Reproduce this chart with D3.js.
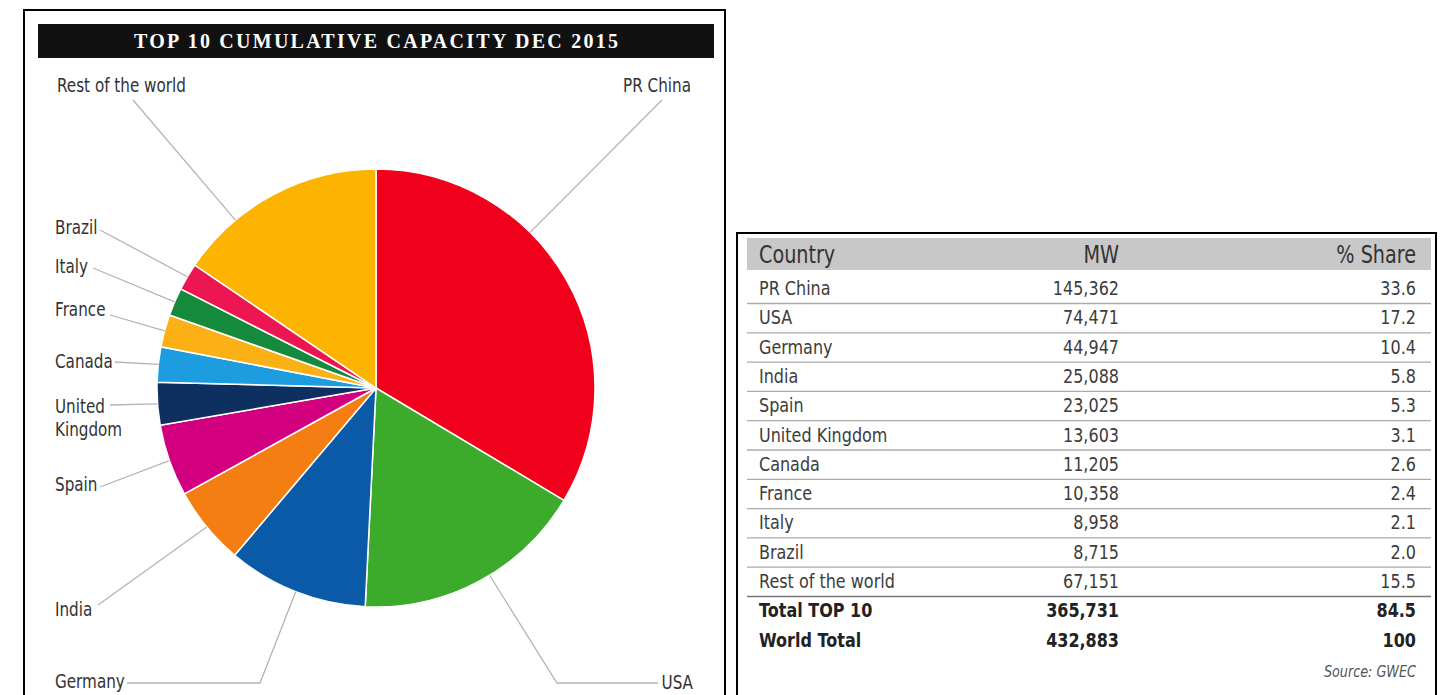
<!DOCTYPE html>
<html>
<head>
<meta charset="utf-8">
<script src="https://cdn.jsdelivr.net/npm/d3@7"></script>
<style>
  body { margin: 0; background: #fff; }
  svg { display: block; }
  .cond { font-family: "DejaVu Sans", "Noto Sans", sans-serif; }
</style>
</head>
<body>
<svg id="chart" width="1449" height="695"></svg>
<script>
// data
const countries = ["PR China", "USA", "Germany", "India", "Spain", "United Kingdom", "Canada", "France", "Italy", "Brazil", "Rest of the world"];
const capacityMW = [145362, 74471, 44947, 25088, 23025, 13603, 11205, 10358, 8958, 8715, 67151];
const sharePct = [33.6, 17.2, 10.4, 5.8, 5.3, 3.1, 2.6, 2.4, 2.1, 2.0, 15.5];
const totalLabels = ["Total TOP 10", "World Total"];
const totalMW = [365731, 432883];
const totalShare = ["84.5", "100"];
const columnHeaders = ["Country", "MW", "% Share"];
const sliceColors = ["#f0001a", "#3cab2b", "#0b5aa8", "#f57e12", "#d2007e", "#0d3060", "#1d9de0", "#fbb015", "#168a3c", "#ec1652", "#fdb400"];

const svg = d3.select("#chart");
const fmt = d3.format(",");
const SQUEEZE = 0.8; // narrow the sans text to look condensed

// condensed text helper: squeeze horizontally around its anchor point
function condText(parent, x, y, anchor, size, txt) {
  return parent.append("text")
    .attr("class", "cond")
    .attr("transform", `translate(${x},${y}) scale(${SQUEEZE},1)`)
    .attr("text-anchor", anchor)
    .style("font-size", size + "px")
    .text(txt);
}

// ---- left panel: pie ----
svg.append("rect").attr("x", 24).attr("y", 10).attr("width", 701).attr("height", 700)
  .attr("fill", "none").attr("stroke", "#000").attr("stroke-width", 2);

svg.append("rect").attr("x", 38).attr("y", 24).attr("width", 676).attr("height", 34).attr("fill", "#111");
svg.append("text")
  .attr("x", 376).attr("y", 48)
  .attr("text-anchor", "middle")
  .attr("textLength", 484).attr("lengthAdjust", "spacing")
  .style("font-family", "'Liberation Serif', 'DejaVu Serif', serif")
  .style("font-weight", "bold").style("font-size", "20px")
  .attr("fill", "#fff")
  .text("TOP 10 CUMULATIVE CAPACITY DEC 2015");

const cx = 376, cy = 388, radius = 219;
const pie = d3.pie().sort(null).value(d => d)(capacityMW);
const arc = d3.arc().innerRadius(0).outerRadius(radius);

const g = svg.append("g").attr("transform", `translate(${cx},${cy})`);
g.selectAll("path.slice")
  .data(pie)
  .join("path")
  .attr("class", "slice")
  .attr("d", arc)
  .attr("fill", (d, i) => sliceColors[i])
  .attr("stroke", "#fff")
  .attr("stroke-width", 1.5);

// label layout: text anchor, leader start, optional elbow, position along slice
const labelLayout = {
  "PR China":          { x: 691, y: 92, anchor: "end",   from: [662, 100], f: 0.37 },
  "USA":               { x: 693, y: 689, anchor: "end",  from: [658, 683], elbow: [557, 683], f: 0.45 },
  "Germany":           { x: 55, y: 688, anchor: "start", from: [127, 683], elbow: [260, 683] },
  "India":             { x: 55, y: 616, anchor: "start", from: [98, 605] },
  "Spain":             { x: 55, y: 491, anchor: "start", from: [100, 487] },
  "United Kingdom":    { x: 55, y: 413, anchor: "start", from: [110, 405], lines: ["United", "Kingdom"] },
  "Canada":            { x: 55, y: 368, anchor: "start", from: [115, 362] },
  "France":            { x: 55, y: 316, anchor: "start", from: [110, 315] },
  "Italy":             { x: 55, y: 273, anchor: "start", from: [93, 268] },
  "Brazil":            { x: 55, y: 234, anchor: "start", from: [100, 230] },
  "Rest of the world": { x: 57, y: 92, anchor: "start", from: [133, 100], f: 0.285 }
};

pie.forEach((d, i) => {
  const lay = labelLayout[countries[i]];
  const f = lay.f ?? 0.5;
  const a = d.startAngle + f * (d.endAngle - d.startAngle);
  const end = [cx + radius * Math.sin(a), cy - radius * Math.cos(a)];
  const pts = [lay.from];
  if (lay.elbow) pts.push(lay.elbow);
  pts.push(end);
  svg.append("path")
    .attr("d", d3.line()(pts))
    .attr("fill", "none")
    .attr("stroke", "#b4b4b4")
    .attr("stroke-width", 1.3);

  (lay.lines || [countries[i]]).forEach((ln, k) => {
    condText(svg, lay.x, lay.y + k * 23, lay.anchor, 19, ln).attr("fill", "#333");
  });
});

// ---- right panel: table ----
const tbl = svg.append("g");
tbl.append("rect").attr("x", 737).attr("y", 233).attr("width", 699).attr("height", 480)
  .attr("fill", "none").attr("stroke", "#000").attr("stroke-width", 2);
tbl.append("rect").attr("x", 747).attr("y", 238).attr("width", 684).attr("height", 32).attr("fill", "#c8c8c8");

const colX = [759, 1119, 1416];
const colAnchor = ["start", "end", "end"];
columnHeaders.forEach((h, i) => {
  condText(tbl, colX[i], 263, colAnchor[i], 24, h).attr("fill", "#333");
});

const rowY = d3.scaleLinear().domain([0, 1]).range([295, 324.3]);
const rows = countries.map((c, i) => [c, fmt(capacityMW[i]), sharePct[i].toFixed(1)]);

rows.forEach((r, i) => {
  r.forEach((v, j) => {
    condText(tbl, colX[j], rowY(i), colAnchor[j], 20, v).attr("fill", "#3c3c3c");
  });
  tbl.append("line")
    .attr("x1", 747).attr("x2", 1431)
    .attr("y1", rowY(i) + 8.5).attr("y2", rowY(i) + 8.5)
    .attr("stroke", i === rows.length - 1 ? "#777" : "#aaa")
    .attr("stroke-width", 1.3);
});

totalLabels.forEach((lbl, k) => {
  const y = rowY(rows.length + k);
  [lbl, fmt(totalMW[k]), totalShare[k]].forEach((v, j) => {
    condText(tbl, colX[j], y, colAnchor[j], 20, v)
      .attr("fill", "#222")
      .style("font-weight", "bold");
  });
});

condText(tbl, colX[2], rowY(rows.length + 2) + 1, "end", 16, "Source: GWEC")
  .attr("fill", "#555")
  .style("font-style", "italic");
</script>
</body>
</html>
